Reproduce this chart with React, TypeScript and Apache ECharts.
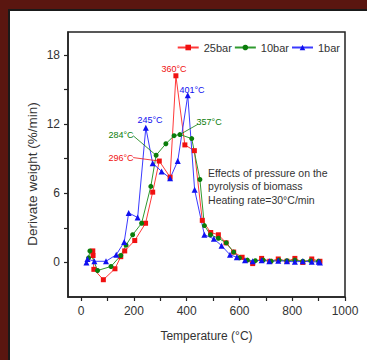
import React, { useEffect, useRef } from "react";
import * as echarts from "echarts";

const FONT = '"Liberation Sans", Arial, sans-serif';

const seriesNames = ["25bar", "10bar", "1bar"];

// 25 bar (red squares)
const redT = [44, 45, 48, 84, 128, 150, 165, 203, 244, 271, 296, 337, 359, 393, 429, 459, 491, 520, 549, 578, 610, 650, 684, 715, 747, 780, 810, 840, 874, 905];
const redV = [1.0, 0.6, -0.6, -1.5, -0.55, 0.5, 1.0, 1.9, 3.4, 6.1, 8.8, 7.4, 16.2, 10.2, 9.7, 3.65, 2.6, 2.4, 1.7, 0.9, 0.45, -0.1, 0.35, 0.1, 0.3, 0.1, 0.35, 0.0, 0.3, 0.1];

// 10 bar (green circles)
const greenT = [28, 33, 62, 113, 150, 170, 195, 229, 264, 284, 321, 352, 374, 419, 450, 467, 490, 520, 550, 578, 600, 630, 660, 690, 720, 750, 780, 810, 840, 870, 900];
const greenV = [0.4, 1.0, -0.7, -0.35, 0.6, 1.5, 2.4, 3.4, 6.6, 9.3, 10.3, 11.0, 11.1, 10.75, 7.2, 3.2, 2.4, 2.1, 1.7, 0.9, 0.4, 0.2, 0.15, 0.2, 0.1, 0.2, 0.15, 0.2, 0.1, 0.15, 0.1];

// 1 bar (blue triangles)
const blueT = [20, 24, 50, 94, 133, 163, 180, 214, 245, 271, 305, 337, 366, 404, 430, 467, 503, 532, 564, 590, 621, 650, 684, 713, 747, 780, 810, 840, 874, 900, 905];
const blueV = [0.0, 0.3, 0.1, 0.1, 0.67, 1.77, 4.3, 3.9, 11.7, 8.6, 7.9, 7.3, 8.8, 14.5, 6.3, 2.4, 2.05, 1.45, 0.67, 0.45, 0.2, 0.1, 0.2, 0.1, 0.15, 0.1, 0.05, 0.1, 0.05, 0.05, 0.0];

const xLabelValues = [0, 200, 400, 600, 800, 1000];
const xTickValues = [0, 100, 200, 300, 400, 500, 600, 700, 800, 900, 1000];
const yLabelValues = [0, 6, 12, 18];
const yTickValues = [0, 3, 6, 9, 12, 15, 18];

const RED = "#f01010";
const GREEN = "#0b7d0b";
const BLUE = "#1010f0";

// peak annotations (label centre in data coordinates)
const peakLabels = [
  { text: "360°C", color: RED, at: [352, 16.8] },
  { text: "401°C", color: BLUE, at: [420, 15.0] },
  { text: "245°C", color: BLUE, at: [261, 12.35] },
];
// annotations with leader lines
const leaderLabels = [
  { text: "284°C", color: GREEN, at: [151, 11.1], from: [197, 11.0], to: [284, 9.3] },
  { text: "296°C", color: RED, at: [151, 9.1], from: [197, 9.1], to: [296, 8.8] },
  { text: "357°C", color: GREEN, at: [485, 12.2], from: [443, 12.0], to: [374, 11.1] },
];
const noteLines = ["Effects of pressure on the", "pyrolysis of biomass", "Heating rate=30°C/min"];
const noteAt = [481, 7.8];

const zip = (t: number[], v: number[]) => t.map((x, i) => [x, v[i]]);

export default function App() {
  const ref = useRef<HTMLDivElement>(null);
  useEffect(() => {
    if (!ref.current) return;
    const chart = echarts.init(ref.current, null, { renderer: "svg" });
    const axisLine = { onZero: false, lineStyle: { color: "#222", width: 1.5 } };
    const option: any = {
      animation: false,
      textStyle: { fontFamily: FONT },
      grid: { left: 68, top: 32, right: 22, bottom: 63, show: true, borderColor: "#222", borderWidth: 1.5 },
      legend: {
        data: seriesNames,
        top: 37,
        right: 22,
        itemWidth: 21,
        itemHeight: 7,
        itemGap: 2,
        textStyle: { fontSize: 11, color: "#333", fontFamily: FONT },
      },
      xAxis: {
        type: "value",
        min: -50,
        max: 1000,
        name: "Temperature (°C)",
        nameLocation: "middle",
        nameGap: 33,
        nameTextStyle: { fontSize: 12, color: "#333", fontFamily: FONT },
        axisLine,
        axisTick: { customValues: xTickValues, length: 4, lineStyle: { color: "#222", width: 1.2 } },
        axisLabel: {
          customValues: xLabelValues, fontSize: 12, color: "#333", margin: 8, fontFamily: FONT,
          formatter: (v: number) => String(v),
        },
        splitLine: { show: false },
      },
      yAxis: {
        type: "value",
        min: -3,
        max: 20,
        axisLine,
        axisTick: { customValues: yTickValues, length: 4, lineStyle: { color: "#222", width: 1.2 } },
        axisLabel: {
          customValues: yLabelValues, fontSize: 12, color: "#333", margin: 8, fontFamily: FONT,
          formatter: (v: number) => String(v),
        },
        splitLine: { show: false },
      },
      series: [
        {
          name: "25bar", type: "line", data: zip(redT, redV), symbol: "rect", symbolSize: 5,
          itemStyle: { color: RED }, lineStyle: { color: "#ff3a3a", width: 1 },
        },
        {
          name: "10bar", type: "line", data: zip(greenT, greenV), symbol: "circle", symbolSize: 5,
          itemStyle: { color: GREEN }, lineStyle: { color: "#2f9a2f", width: 1 },
        },
        {
          name: "1bar", type: "line", data: zip(blueT, blueV), symbol: "triangle", symbolSize: 6,
          itemStyle: { color: BLUE }, lineStyle: { color: "#3a3aff", width: 1 },
        },
      ],
    };
    chart.setOption(option);
    const px = (p: number[]) => chart.convertToPixel({ gridIndex: 0 }, p) as number[];
    const graphics: any[] = [];
    const txt = (text: string, p: number[], color: string, size: number, align = "center") => ({
      type: "text",
      x: p[0],
      y: p[1],
      z: 10,
      style: {
        text, fill: color, fontSize: size, fontFamily: FONT,
        align, textAlign: align, verticalAlign: "middle", textVerticalAlign: "middle",
      },
    });
    peakLabels.forEach((l) => graphics.push(txt(l.text, px(l.at), l.color, 9)));
    leaderLabels.forEach((l) => {
      graphics.push(txt(l.text, px(l.at), l.color, 9));
      const a = px(l.from);
      const b = px(l.to);
      graphics.push({
        type: "line", z: 9,
        shape: { x1: a[0], y1: a[1], x2: b[0], y2: b[1] },
        style: { stroke: l.color, lineWidth: 0.8 },
      });
    });
    const n = px(noteAt);
    noteLines.forEach((s, i) => graphics.push(txt(s, [n[0], n[1] + i * 13.5], "#333", 10.5, "left")));
    graphics.push({
      type: "text", x: 32, y: 174, rotation: Math.PI / 2, z: 10,
      style: {
        text: "Derivate weight (%/min)", fill: "#333", fontSize: 13.5, fontFamily: FONT,
        align: "center", textAlign: "center", verticalAlign: "middle", textVerticalAlign: "middle",
      },
    });
    chart.setOption({ graphic: graphics });
    return () => chart.dispose();
  }, []);

  return (
    <div style={{ position: "absolute", left: 0, top: 0, width: 367, height: 360, background: "#5a1610", overflow: "hidden" }}>
      <div style={{ position: "absolute", left: 8, top: 9, right: 0, bottom: -4, background: "#fff", borderLeft: "2px solid #1a1a1a", borderTop: "2px solid #1a1a1a" }} />
      <div ref={ref} style={{ position: "absolute", left: 0, top: 0, width: 367, height: 360 }} />
    </div>
  );
}
